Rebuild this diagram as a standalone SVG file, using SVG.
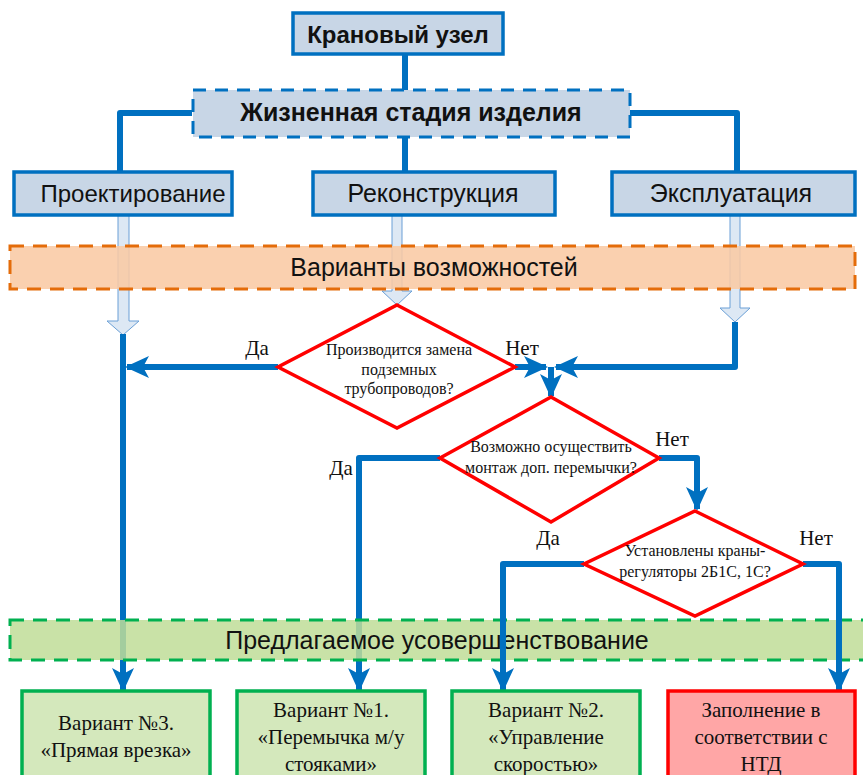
<svg xmlns="http://www.w3.org/2000/svg" width="863" height="775" viewBox="0 0 863 775">
<style>
.box{fill:#c8d6e6;stroke:#0070c0;stroke-width:3.5}
.t{font-family:"Liberation Sans",Arial,sans-serif;fill:#111;text-anchor:middle}
.tb{font-family:"Liberation Sans",Arial,sans-serif;font-weight:bold;fill:#111;text-anchor:middle}
.tm{font-family:"Liberation Serif","Times New Roman",serif;fill:#111;text-anchor:middle}
.dia{fill:#fff;stroke:#ff0000;stroke-width:3.5;stroke-linejoin:miter}
.ln{fill:none;stroke:#0070c0;stroke-width:6;stroke-linejoin:round}
.hol{fill:#dde8f4;stroke:#6a9fd6;stroke-width:1}
.gbox{fill:#d4e8bc;stroke:#00b050;stroke-width:3.5}
.rbox{fill:#ffa6a6;stroke:#ff0000;stroke-width:3.5}
</style>
<defs>
<marker id="ah" markerUnits="userSpaceOnUse" markerWidth="24" markerHeight="22" viewBox="0 0 24 22" refX="22" refY="11" orient="auto">
<path d="M0,0 L24,11 L0,22 L6,11 Z" fill="#0070c0"/>
</marker>
</defs>

<g id="hollow-arrows">
<polygon class="hol" points="118,215 129,215 129,321 139,321 123,335 107,321 118,321"/>
<polygon class="hol" points="392,215 402,215 402,291 412,291 397,305 382,291 392,291"/>
<polygon class="hol" points="730,215 740,215 740,308 750,308 735,322 720,308 730,308"/>
</g>

<g id="band-options">
<rect x="10" y="246" width="845" height="43" fill="#f9c9a4" fill-opacity="0.88" stroke="#e46c0a" stroke-width="3" stroke-dasharray="14,9"/>
<text class="t" x="434" y="276" font-size="25">Варианты возможностей</text>
</g>

<g id="connectors">
<path class="ln" d="M405,54 V90"/>
<path class="ln" d="M192,113 H120 V172"/>
<path class="ln" d="M630,113 H737 V172"/>
<path class="ln" d="M405,137 V172"/>
<path class="ln" d="M278,367 H127" marker-end="url(#ah)"/>
<path class="ln" d="M123,334 V690" marker-end="url(#ah)"/>
<path class="ln" d="M515,367 H546" marker-end="url(#ah)"/>
<path class="ln" d="M735,322 V367 H556" marker-end="url(#ah)"/>
<path class="ln" d="M551,367 V396" marker-end="url(#ah)"/>
<path class="ln" d="M440,458 H359 V690" marker-end="url(#ah)"/>
<path class="ln" d="M659,458 H697 V509" marker-end="url(#ah)"/>
</g>

<g id="band-proposed">
<rect x="10" y="620" width="860" height="40" fill="#bfdd98" fill-opacity="0.85" stroke="#00b050" stroke-width="3" stroke-dasharray="14,9"/>
<text class="t" x="437" y="649" font-size="25">Предлагаемое усовершенствование</text>
</g>

<g id="connectors-front">
<path class="ln" d="M584,564 H503 V690" marker-end="url(#ah)"/>
<path class="ln" d="M803,564 H839 V690" marker-end="url(#ah)"/>
</g>

<g id="node-kranovy">
<rect class="box" x="293" y="13" width="210" height="41"/>
<text class="tb" x="398" y="43" font-size="24">Крановый узел</text>
</g>

<g id="node-stage">
<rect x="193" y="90" width="437" height="47" fill="#c8d6e6" stroke="#0070c0" stroke-width="3" stroke-dasharray="13,9"/>
<text class="tb" x="411" y="121" font-size="25">Жизненная стадия изделия</text>
</g>

<g id="node-design">
<rect class="box" x="14" y="172" width="218" height="43"/>
<text class="t" x="133" y="202" font-size="24">Проектирование</text>
</g>
<g id="node-recon">
<rect class="box" x="313" y="172" width="242" height="43"/>
<text class="t" x="433" y="202" font-size="25">Реконструкция</text>
</g>
<g id="node-exploit">
<rect class="box" x="612" y="172" width="243" height="43"/>
<text class="t" x="731" y="202" font-size="25">Эксплуатация</text>
</g>

<g id="dec1">
<polygon class="dia" points="397,305 515,367 397,428 278,367"/>
<text class="tm" x="399" y="355" font-size="16">Производится замена</text>
<text class="tm" x="399" y="375" font-size="16">подземных</text>
<text class="tm" x="399" y="394" font-size="16">трубопроводов?</text>
<text class="tm" x="257" y="355" font-size="21">Да</text>
<text class="tm" x="522" y="355" font-size="21">Нет</text>
</g>

<g id="dec2">
<polygon class="dia" points="551,397 659,458 551,522 440,458"/>
<text class="tm" x="551" y="452" font-size="16">Возможно осуществить</text>
<text class="tm" x="551" y="473" font-size="16">монтаж доп. перемычки?</text>
<text class="tm" x="341" y="475" font-size="21">Да</text>
<text class="tm" x="672" y="446" font-size="21">Нет</text>
</g>

<g id="dec3">
<polygon class="dia" points="695,511 803,564 695,616 584,564"/>
<text class="tm" x="695" y="556" font-size="16">Установлены краны-</text>
<text class="tm" x="695" y="577" font-size="16">регуляторы 2Б1С, 1С?</text>
<text class="tm" x="548" y="545" font-size="21">Да</text>
<text class="tm" x="816" y="545" font-size="21">Нет</text>
</g>

<g id="var3">
<rect class="gbox" x="22" y="691" width="188" height="90"/>
<text class="tm" x="116" y="730" font-size="21">Вариант №3.</text>
<text class="tm" x="116" y="757" font-size="21">«Прямая врезка»</text>
</g>
<g id="var1">
<rect class="gbox" x="237" y="691" width="188" height="90"/>
<text class="tm" x="331" y="717" font-size="21">Вариант №1.</text>
<text class="tm" x="331" y="744" font-size="21">«Перемычка м/у</text>
<text class="tm" x="331" y="771" font-size="21">стояками»</text>
</g>
<g id="var2">
<rect class="gbox" x="452" y="691" width="188" height="90"/>
<text class="tm" x="546" y="717" font-size="21">Вариант №2.</text>
<text class="tm" x="546" y="744" font-size="21">«Управление</text>
<text class="tm" x="546" y="771" font-size="21">скоростью»</text>
</g>
<g id="ntd">
<rect class="rbox" x="668" y="691" width="187" height="90"/>
<text class="tm" x="761" y="717" font-size="21">Заполнение в</text>
<text class="tm" x="761" y="744" font-size="21">соответствии с</text>
<text class="tm" x="761" y="771" font-size="21">НТД</text>
</g>
</svg>
